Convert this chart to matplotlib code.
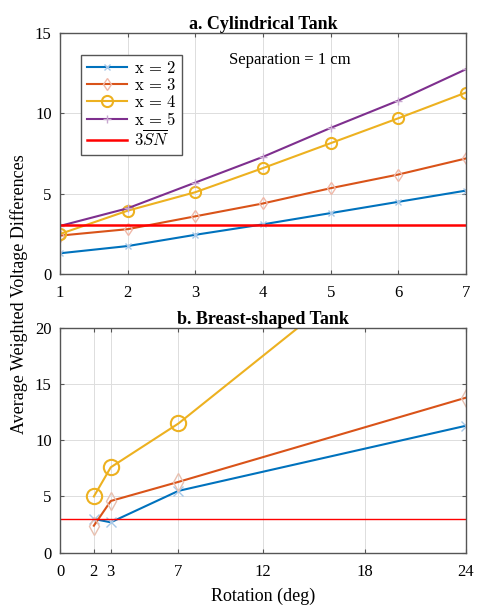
import numpy as np
import matplotlib
matplotlib.use('Agg')
import matplotlib.pyplot as plt

plt.rcParams['font.family'] = ['Liberation Serif', 'DejaVu Serif']
plt.rcParams['mathtext.fontset'] = 'cm'

# a. Cylindrical tank
sep_a = [1, 2, 3, 4, 5, 6, 7]
cyl_x2 = [1.3, 1.75, 2.45, 3.1, 3.8, 4.5, 5.2]
cyl_x3 = [2.4, 2.8, 3.6, 4.4, 5.35, 6.2, 7.2]
cyl_x4 = [2.5, 3.95, 5.1, 6.6, 8.15, 9.7, 11.3]
cyl_x5 = [3.0, 4.1, 5.7, 7.3, 9.1, 10.8, 12.75]
sn_level = 3.05

# b. Breast-shaped tank
rot_b = [2, 3, 7, 24]
br_x2 = [3.0, 2.7, 5.5, 11.3]
br_x3 = [2.4, 4.6, 6.3, 13.8]
br_x4 = [5.0, 7.6, 11.5, 32.0]
sn_level_b = 3.0

labels = [r'$\mathrm{x}\,=\,2$', r'$\mathrm{x}\,=\,3$', r'$\mathrm{x}\,=\,4$',
          r'$\mathrm{x}\,=\,5$', r'$3\overline{SN}$']

c_blue = '#0072BD'
c_orange = '#D95319'
c_yellow = '#EDB120'
c_purple = '#7E2F8E'
c_red = '#FF0000'

fig = plt.figure(figsize=(4.88, 6.12), dpi=100)
ax1 = fig.add_axes([0.123, 0.552, 0.832, 0.394])
ax2 = fig.add_axes([0.123, 0.097, 0.832, 0.367])


def estilo(ax):
    ax.grid(True, color='#dddddd', linewidth=0.7)
    ax.set_axisbelow(True)
    for s in ax.spines.values():
        s.set_color('#555555')
        s.set_linewidth(1.0)
    ax.tick_params(direction='in', top=True, right=True, labelsize=12,
                   color='#555555', length=3)
    ax.tick_params(axis='x', pad=8)
    ax.tick_params(axis='y', pad=6)


ax1.plot(sep_a, cyl_x2, '-', color=c_blue, lw=1.5, marker='x', ms=5,
         mec='#a8c8e8', label=labels[0])
ax1.plot(sep_a, cyl_x3, '-', color=c_orange, lw=1.5, marker='d', ms=6,
         mfc='none', mec='#f0b8a8', label=labels[1])
ax1.plot(sep_a, cyl_x4, '-', color=c_yellow, lw=1.5, marker='o', ms=8,
         mfc='none', mec=c_yellow, mew=1.5, label=labels[2])
ax1.plot(sep_a, cyl_x5, '-', color=c_purple, lw=1.5, marker='+', ms=6,
         mec='#c8a8d0', label=labels[3])
ax1.axhline(sn_level, color=c_red, lw=1.8, label=labels[4])
ax1.set_xlim(1, 7)
ax1.set_ylim(0, 15)
ax1.set_yticks([0, 5, 10, 15])
ax1.set_title('a. Cylindrical Tank', fontsize=13, fontweight='bold', pad=3)
ax1.text(3.5, 13.1, 'Separation = 1 cm', fontsize=12)
leg = ax1.legend(loc='upper left', bbox_to_anchor=(0.052, 0.908), fontsize=12,
                 fancybox=False, edgecolor='#555555', framealpha=1,
                 handlelength=2.4, handletextpad=0.4, labelspacing=0.05,
                 borderpad=0.35, borderaxespad=0)
leg.get_frame().set_linewidth(1.0)
estilo(ax1)

ax2.plot(rot_b, br_x2, '-', color=c_blue, lw=1.5, marker='x', ms=7,
         mec='#a8c8e8')
ax2.plot(rot_b, br_x3, '-', color=c_orange, lw=1.5, marker='d', ms=9,
         mfc='none', mec='#e8c0b0')
ax2.plot(rot_b, br_x4, '-', color=c_yellow, lw=1.5, marker='o', ms=11,
         mfc='none', mec=c_yellow, mew=1.5)
ax2.axhline(sn_level_b, color=c_red, lw=1.0)
ax2.set_xlim(0, 24)
ax2.set_ylim(0, 20)
ax2.set_xticks([0, 2, 3, 7, 12, 18, 24])
ax2.set_yticks([0, 5, 10, 15, 20])
ax2.set_title('b. Breast-shaped Tank', fontsize=13, fontweight='bold', pad=3)
ax2.set_xlabel('Rotation (deg)', fontsize=13, labelpad=6)
estilo(ax2)

fig.text(0.04, 0.52, 'Average Weighted Voltage Differences', rotation=90,
         ha='center', va='center', fontsize=13)

plt.savefig('out.png', dpi=100)
